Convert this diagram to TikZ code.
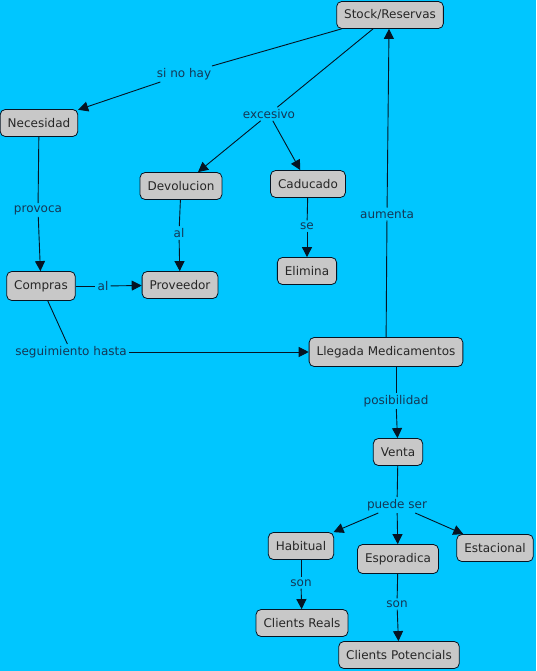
\documentclass[tikz,border=0pt]{standalone}
\usepackage{fontspec}
\setmainfont{DejaVu Sans}
\usetikzlibrary{arrows.meta}
\definecolor{bgc}{RGB}{0,198,255}
\definecolor{boxc}{RGB}{200,200,200}
\definecolor{lblc}{RGB}{20,55,85}
\definecolor{linec}{RGB}{5,20,35}
\begin{document}
\begin{tikzpicture}[x=1pt,y=-1pt,
  concept/.style={draw=linec,fill=boxc,rounded corners=5pt,minimum height=27pt,inner xsep=7.5pt,inner ysep=0pt,text=black!85,font=\fontsize{12}{14}\selectfont,line width=0.8pt},
  linkl/.style={text=lblc,inner sep=2pt,font=\fontsize{12}{14}\selectfont},
  ln/.style={draw=linec,line width=0.9pt},
  ar/.style={draw=linec,line width=0.9pt,-{Triangle[length=10pt,width=10pt]}}]
\useasboundingbox[fill=bgc] (0,0) rectangle (536,671);
% concepts
\node[concept] (stock) at (390,15) {Stock/Reservas};
\node[concept] (nec) at (39,123) {Necesidad};
\node[concept] (dev) at (181,186) {Devolucion};
\node[concept] (cad) at (308,184) {Caducado};
\node[concept,minimum height=29pt] (comp) at (41,286) {Compras};
\node[concept] (prov) at (180,285) {Proveedor};
\node[concept] (elim) at (307,271) {Elimina};
\node[concept,minimum height=29pt] (lleg) at (386,352) {Llegada Medicamentos};
\node[concept] (venta) at (398,452) {Venta};
\node[concept] (hab) at (301,546) {Habitual};
\node[concept,minimum height=29pt] (esp) at (398,559) {Esporadica};
\node[concept] (est) at (495,548) {Estacional};
\node[concept] (creal) at (302,623) {Clients Reals};
\node[concept] (cpot) at (399,655) {Clients Potencials};
% link labels
\node[linkl] (sinohay) at (184,74) {si no hay};
\node[linkl] (exc) at (269,114) {excesivo};
\node[linkl] (provoca) at (38,210) {provoca};
\node[linkl] (al1) at (179,233) {al};
\node[linkl] (se) at (307,226) {se};
\node[linkl] (aum) at (387,214) {aumenta};
\node[linkl] (al2) at (103,286) {al};
\node[linkl] (seg) at (71,352) {seguimiento hasta};
\node[linkl] (pos) at (396,401) {posibilidad};
\node[linkl] (puede) at (397,505) {puede ser};
\node[linkl] (son1) at (301,583) {son};
\node[linkl] (son2) at (397,604) {son};
% connectors
\draw[ln] (stock) -- (sinohay);
\draw[ar] (sinohay) -- (nec);
\draw[ln] (stock) -- (exc);
\draw[ar] (exc) -- (dev);
\draw[ar] (exc) -- (cad);
\draw[ln] (nec) -- (provoca);
\draw[ar] (provoca) -- (comp);
\draw[ln] (dev) -- (al1);
\draw[ar] (al1) -- (prov);
\draw[ln] (cad) -- (se);
\draw[ar] (se) -- (elim);
\draw[ln] (comp) -- (al2);
\draw[ar] (al2) -- (prov);
\draw[ln] (comp) -- (seg);
\draw[ar] (seg) -- (lleg);
\draw[ln] (lleg) -- (aum);
\draw[ar] (aum) -- (stock.south -| 389,0);
\draw[ln] (lleg.south -| pos) -- (pos);
\draw[ar] (pos) -- (venta);
\draw[ln] (venta) -- (puede);
\draw[ar] (puede) -- (hab);
\draw[ar] (puede) -- (esp);
\draw[ar] (puede) -- (est);
\draw[ln] (hab) -- (son1);
\draw[ar] (son1) -- (creal);
\draw[ln] (esp) -- (son2);
\draw[ar] (son2) -- (cpot);
\end{tikzpicture}
\end{document}
